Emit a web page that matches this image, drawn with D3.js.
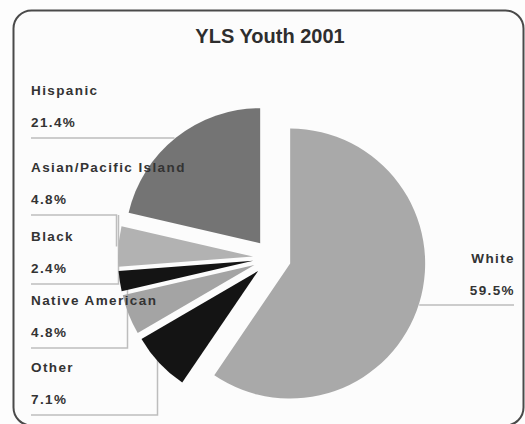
<!DOCTYPE html>
<html>
<head>
<meta charset="utf-8">
<script src="https://cdn.jsdelivr.net/npm/d3@7"></script>
<style>
  body { margin: 0; background: #fff; }
  svg { display: block; }
</style>
</head>
<body>
<div id="chart"></div>
<script>
// data
var title = "YLS Youth 2001";
var categories = ["White", "Other", "Native American", "Black", "Asian/Pacific Island", "Hispanic"];
var shares = [59.5, 7.1, 4.8, 2.4, 4.8, 21.4];
var greys = ["#a9a9a9", "#141414", "#a4a4a4", "#141414", "#b2b2b2", "#747474"];

var width = 525,
    height = 424,
    cx = 272, cy = 258,
    radius = 135,
    explode = 19;

// label slots (underline heights); White sits on the right, the rest stack on the left
var leftOrder = ["Hispanic", "Asian/Pacific Island", "Black", "Native American", "Other"];
var leftUnderline = [138, 215, 284, 348, 415];
var rightUnderline = 305;

var fmt = function(v) { return d3.format(".1f")(v) + "%"; };

var svg = d3.select("#chart").append("svg")
    .attr("width", width)
    .attr("height", height);

svg.append("rect")
    .attr("width", width).attr("height", height)
    .attr("fill", "#fdfdfd");

// rounded frame
svg.append("rect")
    .attr("x", 13.5).attr("y", 10.5)
    .attr("width", 510).attr("height", 415)
    .attr("rx", 18).attr("ry", 18)
    .attr("fill", "#fcfcfc")
    .attr("stroke", "#4a4a4a")
    .attr("stroke-width", 2);

svg.append("text")
    .attr("x", 270).attr("y", 43)
    .attr("text-anchor", "middle")
    .style("font-family", "'Liberation Sans', Arial, sans-serif")
    .style("font-weight", "bold")
    .style("font-size", "20px")
    .attr("fill", "#2e2e2e")
    .text(title);

var pie = d3.pie().sort(null).value(function(d) { return d; });
var arcs = pie(shares);
var arc = d3.arc().innerRadius(0).outerRadius(radius);

// per slice: where it is pushed out to and the outer point at mid angle
var slices = arcs.map(function(a, i) {
    var mid = (a.startAngle + a.endAngle) / 2;
    var ox = cx + Math.sin(mid) * explode,
        oy = cy - Math.cos(mid) * explode;
    return {
        name: categories[i],
        arc: a,
        color: greys[i],
        ox: ox, oy: oy,
        px: ox + Math.sin(mid) * radius,
        py: oy - Math.cos(mid) * radius
    };
});
var byName = {};
slices.forEach(function(s) { byName[s.name] = s; });

var leaderColor = "#bdbdbd";
var leaders = svg.append("g")
    .attr("fill", "none")
    .attr("stroke", leaderColor)
    .attr("stroke-width", 1.5);

var textX = 31;

leftOrder.forEach(function(name, k) {
    var s = byName[name];
    var yU = leftUnderline[k];
    var xv = Math.round(s.px) - 1.5;
    var pts = [[textX, yU], [xv, yU]];
    if (s.py > yU + 2) {
        pts.push([xv, s.py]);
    } else if (k > 0 && s.py < yU - 2) {
        pts.push([xv, leftUnderline[k - 1]]);
    }
    leaders.append("path").attr("d", d3.line()(pts));
});

// White, on the right
var w = byName["White"];
leaders.append("path")
    .attr("d", d3.line()([[w.px, rightUnderline], [514, rightUnderline]]));

// the pie itself, each slice pulled out a bit
svg.append("g").selectAll("path")
    .data(slices)
    .enter()
    .append("path")
    .attr("transform", function(d) { return "translate(" + d.ox + "," + d.oy + ")"; })
    .attr("d", function(d) { return arc(d.arc); })
    .attr("fill", function(d) { return d.color; });

// labels
function labelText(x, y, str, anchor) {
    svg.append("text")
        .attr("x", x).attr("y", y)
        .attr("text-anchor", anchor)
        .style("font-family", "'Liberation Sans', Arial, sans-serif")
        .style("font-weight", "bold")
        .style("font-size", "13.5px")
        .style("letter-spacing", "1.4px")
        .attr("fill", "#333")
        .text(str);
}

leftOrder.forEach(function(name, k) {
    var yU = leftUnderline[k];
    var v = shares[categories.indexOf(name)];
    labelText(textX, yU - 43, name, "start");
    labelText(textX, yU - 11, fmt(v), "start");
});

labelText(515, rightUnderline - 42, "White", "end");
labelText(515, rightUnderline - 10, fmt(shares[0]), "end");
</script>
</body>
</html>
